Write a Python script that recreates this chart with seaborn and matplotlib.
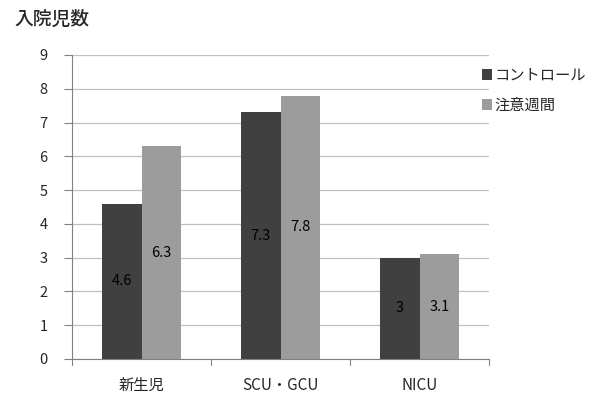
import matplotlib
matplotlib.use("Agg")
import matplotlib.pyplot as plt
import seaborn as sns
import pandas as pd
from matplotlib.patches import Patch

categories = ["新生児", "SCU・GCU", "NICU"]
series_names = ["コントロール", "注意週間"]
control = [4.6, 7.3, 3.0]
attention = [6.3, 7.8, 3.1]
value_labels_control = ["4.6", "7.3", "3"]
value_labels_attention = ["6.3", "7.8", "3.1"]
yticks = list(range(0, 10))

sns.set_theme(style="white")
plt.rcParams["font.family"] = ["Noto Sans CJK JP", "DejaVu Sans"]

df = pd.DataFrame({
    "cat": categories * 2,
    "series": [series_names[0]] * 3 + [series_names[1]] * 3,
    "value": control + attention,
})
colors = ["#404040", "#9c9c9c"]

fig = plt.figure(figsize=(5.99, 3.96), dpi=100)
ax = fig.add_axes([72 / 599, 1 - 359 / 396, (489 - 72) / 599, (359 - 55) / 396])

sns.barplot(data=df, x="cat", y="value", hue="series", palette=colors,
            width=0.57, saturation=1, ax=ax, legend=False, edgecolor="none")

ax.set_ylim(0, 9)
ax.set_xlim(-0.5, 2.5)
ax.set_yticks(yticks)
ax.set_yticklabels([str(t) for t in yticks], fontsize=10.5)
ax.set_xlabel("")
ax.set_ylabel("")
ax.tick_params(axis="x", labelsize=11, length=0, pad=13)
ax.tick_params(axis="y", left=True, length=5.5, width=0.8, color="#808080", pad=12)
ax.yaxis.grid(True, color="#c0c0c0", linewidth=0.9)
ax.set_axisbelow(True)
for s in ["top", "right"]:
    ax.spines[s].set_visible(False)
ax.spines["left"].set_color("#808080")
ax.spines["bottom"].set_color("#808080")
ax.spines["left"].set_linewidth(0.8)
ax.spines["bottom"].set_linewidth(0.8)

# category boundary ticks below the x axis
for xb in [-0.5, 0.5, 1.5, 2.5]:
    ax.plot([xb, xb], [0, -0.18], color="#808080", linewidth=0.8, clip_on=False)

# value labels in the middle of each bar
for cont, lbls in zip(ax.containers, [value_labels_control, value_labels_attention]):
    for bar, lbl in zip(cont, lbls):
        ax.text(bar.get_x() + bar.get_width() / 2, bar.get_height() / 2, lbl,
                ha="center", va="center", fontsize=10.5, color="black")

handles = [Patch(facecolor=c, edgecolor="none") for c in colors]
fig.legend(handles, series_names, loc="upper left", bbox_to_anchor=(468 / 599, 1 - 53 / 396),
           frameon=False, fontsize=11, handlelength=0.7, handleheight=0.7,
           handletextpad=0.15, labelspacing=0.85)

fig.text(14 / 599, 1 - 19 / 396, "入院児数", fontsize=13.5, va="center", ha="left",
         fontweight="medium")

fig.savefig("out.png", dpi=100)
